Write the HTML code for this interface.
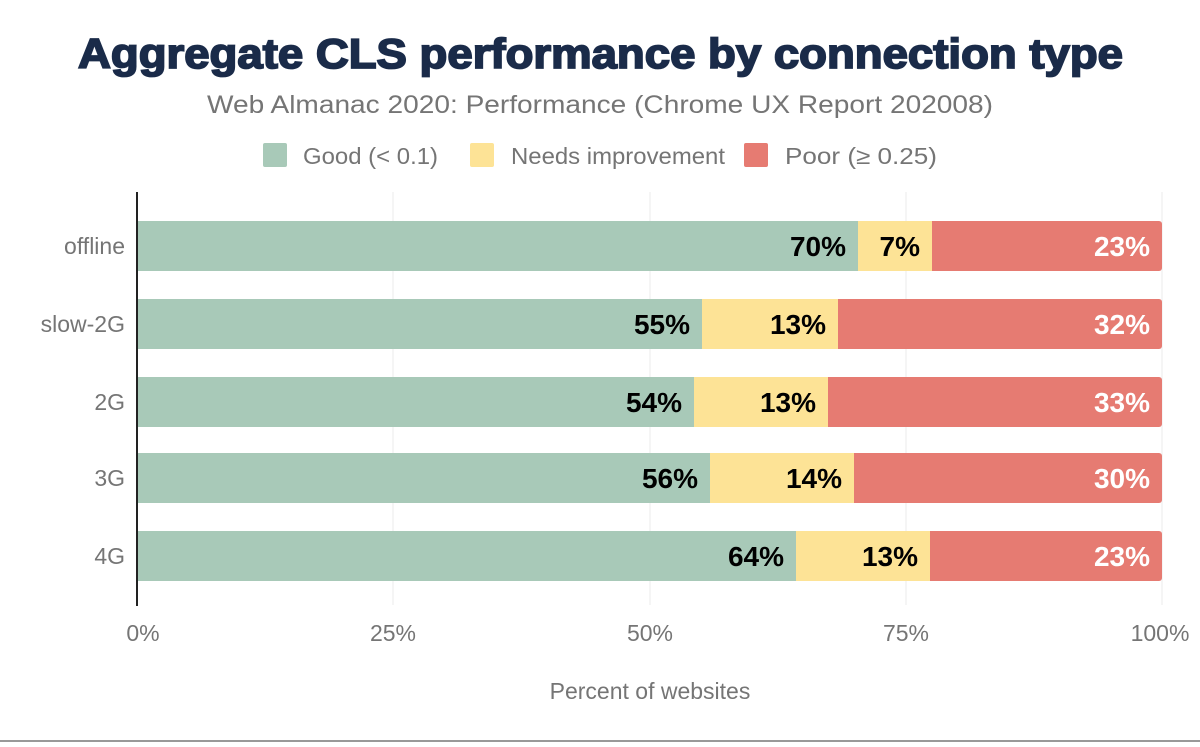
<!DOCTYPE html>
<html><head><style>
body{margin:0;background:#fff;}
svg text{font-family:"Liberation Sans",Arial,sans-serif;}
</style></head><body>
<svg width="1200" height="742" xmlns="http://www.w3.org/2000/svg">
<text x="78" y="68" font-size="42" font-weight="900" fill="#1a2b49" stroke="#1a2b49" stroke-width="1.8" textLength="1045" lengthAdjust="spacingAndGlyphs">Aggregate CLS performance by connection type</text>
<text x="207" y="113" font-size="25" fill="#757575" textLength="786" lengthAdjust="spacingAndGlyphs">Web Almanac 2020: Performance (Chrome UX Report 202008)</text>
<rect x="263" y="143" width="24" height="24" rx="2" fill="#a8c9b8"/>
<text x="303" y="164" font-size="23" fill="#757575" textLength="135" lengthAdjust="spacingAndGlyphs">Good (&lt; 0.1)</text>
<rect x="470" y="143" width="24" height="24" rx="2" fill="#fde396"/>
<text x="511" y="164" font-size="23" fill="#757575" textLength="214" lengthAdjust="spacingAndGlyphs">Needs improvement</text>
<rect x="744" y="143" width="24" height="24" rx="2" fill="#e67b72"/>
<text x="785" y="164" font-size="23" fill="#757575" textLength="152" lengthAdjust="spacingAndGlyphs">Poor (≥ 0.25)</text>
<g stroke="#ebebeb" stroke-width="1">
<line x1="393" y1="192" x2="393" y2="605"/><line x1="650" y1="192" x2="650" y2="605"/><line x1="906" y1="192" x2="906" y2="605"/><line x1="1162" y1="192" x2="1162" y2="605"/>
</g>
<g font-size="23" fill="#757575" text-anchor="end">
<text x="125" y="254">offline</text><text x="125" y="332">slow-2G</text><text x="125" y="410">2G</text><text x="125" y="486">3G</text><text x="125" y="564">4G</text>
</g>
<g>
<rect x="137" y="221" width="1025" height="50" rx="3" fill="#e67b72"/><rect x="137" y="221" width="795" height="50" fill="#fde396"/><rect x="137" y="221" width="721" height="50" fill="#a8c9b8"/>
<rect x="137" y="299" width="1025" height="50" rx="3" fill="#e67b72"/><rect x="137" y="299" width="701" height="50" fill="#fde396"/><rect x="137" y="299" width="565" height="50" fill="#a8c9b8"/>
<rect x="137" y="377" width="1025" height="50" rx="3" fill="#e67b72"/><rect x="137" y="377" width="691" height="50" fill="#fde396"/><rect x="137" y="377" width="557" height="50" fill="#a8c9b8"/>
<rect x="137" y="453" width="1025" height="50" rx="3" fill="#e67b72"/><rect x="137" y="453" width="717" height="50" fill="#fde396"/><rect x="137" y="453" width="573" height="50" fill="#a8c9b8"/>
<rect x="137" y="531" width="1025" height="50" rx="3" fill="#e67b72"/><rect x="137" y="531" width="793" height="50" fill="#fde396"/><rect x="137" y="531" width="659" height="50" fill="#a8c9b8"/>
</g>
<g font-size="28" font-weight="bold" text-anchor="end" fill="#000">
<text x="846" y="256">70%</text><text x="920" y="256">7%</text>
<text x="690" y="334">55%</text><text x="826" y="334">13%</text>
<text x="682" y="412">54%</text><text x="816" y="412">13%</text>
<text x="698" y="488">56%</text><text x="842" y="488">14%</text>
<text x="784" y="566">64%</text><text x="918" y="566">13%</text>
</g>
<g font-size="28" font-weight="bold" text-anchor="end" fill="#fff">
<text x="1150" y="256">23%</text><text x="1150" y="334">32%</text><text x="1150" y="412">33%</text><text x="1150" y="488">30%</text><text x="1150" y="566">23%</text>
</g>
<line x1="137" y1="192" x2="137" y2="606" stroke="#222" stroke-width="2"/>
<g font-size="23" fill="#757575" text-anchor="middle">
<text x="143" y="641">0%</text><text x="393" y="641">25%</text><text x="650" y="641">50%</text><text x="906" y="641">75%</text><text x="1160" y="641">100%</text>
</g>
<text x="650" y="699" text-anchor="middle" font-size="23" fill="#757575">Percent of websites</text>
<line x1="0" y1="741" x2="1200" y2="741" stroke="#999" stroke-width="2"/>
</svg>
</body></html>
